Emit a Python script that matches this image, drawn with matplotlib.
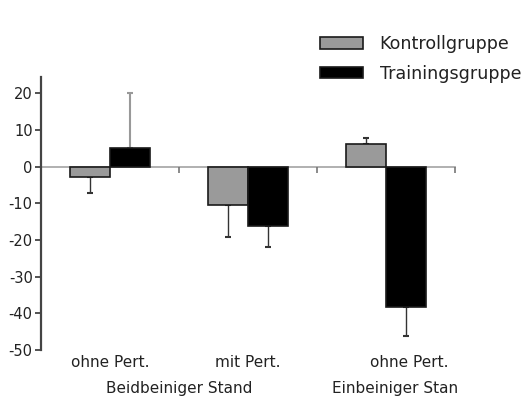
import numpy as np
import matplotlib
matplotlib.use('Agg')
import matplotlib.pyplot as plt
import matplotlib.transforms as mtransforms
from matplotlib.patches import Rectangle

# Mittelwerte und Standardabweichungen (Veraenderung in %)
gruppen = ['Kontrollgruppe', 'Trainingsgruppe']
bedingungen = ['ohne Pert.', 'mit Pert.', 'ohne Pert.']
kontrolle = [-2.9, -10.5, 6.1]
kontrolle_sd = [4.4, 8.7, 1.6]
training = [5.0, -16.2, -38.3]
training_sd = [15.0, 5.8, 7.9]
yticks = [-50, -40, -30, -20, -10, 0, 10, 20]

textfarbe = '#222222'
W, H = 529, 398

fig = plt.figure(figsize=(W / 100, H / 100), dpi=100)
ax = fig.add_axes([41 / W, 1 - 350 / H, (455 - 41) / W, (350 - 77) / H])

x = np.arange(len(bedingungen))
w = 0.29

for werte, sd, farbe, dx in [(kontrolle, kontrolle_sd, '#9a9a9a', -w / 2),
                             (training, training_sd, 'black', w / 2)]:
    ax.bar(x + dx, werte, width=w, color=farbe, edgecolor='#1a1a1a',
           linewidth=1.2, zorder=3)
    # nur einseitige Fehlerbalken (vom Nullpunkt weg)
    for xi, v, s in zip(x + dx, werte, sd):
        yerr = [[s], [0]] if v < 0 else [[0], [s]]
        lc = '#999999' if (v > 0 and s > 5) else '#333333'
        _, caps, bars = ax.errorbar([xi], [v], yerr=yerr, fmt='none',
                                    ecolor=lc, elinewidth=1.5 if lc == '#999999' else 1.0,
                                    capsize=2.5, capthick=1.5, zorder=2)
        for c in caps:
            c.set_color('#333333')

ax.set_xlim(-0.5, 2.5)
ax.set_ylim(-50, 24.4)

ax.spines['top'].set_visible(False)
ax.spines['right'].set_visible(False)
ax.spines['left'].set_color('#444444')
ax.spines['left'].set_linewidth(1.6)
ax.spines['bottom'].set_position(('data', 0))
ax.spines['bottom'].set_color('#aaaaaa')
ax.spines['bottom'].set_linewidth(1.3)
ax.spines['bottom'].set_zorder(1)

ax.set_yticks(yticks)
ax.set_yticklabels([str(t) for t in yticks])
ax.tick_params(axis='y', length=4, width=1.3, color='#444444', pad=2,
               labelsize=10.5, labelcolor=textfarbe)
ax.set_xticks([0.5, 1.5, 2.5])
ax.set_xticklabels([])
ax.tick_params(axis='x', length=4, width=1.2, color='#777777')

# Beschriftung unter der Achse
tr = mtransforms.blended_transform_factory(ax.transData, fig.transFigure)
for xi, lab in zip([0, 1, 2.17], bedingungen):
    ax.text(xi, 1 - 367 / H, lab, transform=tr, ha='center', va='baseline',
            fontsize=11, color=textfarbe)
ax.text(0.5, 1 - 393 / H, 'Beidbeiniger Stand', transform=tr, ha='center',
        va='baseline', fontsize=11, color=textfarbe)
t = ax.text(1.61, 1 - 393 / H, 'Einbeiniger Stand', transform=tr, ha='left',
            va='baseline', fontsize=11, color=textfarbe, clip_on=True)
t.set_clip_box(mtransforms.TransformedBbox(
    mtransforms.Bbox([[0, 0], [459 / W, 1]]), fig.transFigure))

# Legende
handles = [Rectangle((0, 0), 1, 1, facecolor='#9a9a9a', edgecolor='#1a1a1a', linewidth=1.2),
           Rectangle((0, 0), 1, 1, facecolor='black', edgecolor='#1a1a1a', linewidth=1.2)]
leg = fig.legend(handles, gruppen, loc='upper left',
                 bbox_to_anchor=(320 / W, 1 - 35 / H), frameon=False,
                 fontsize=12.6, handlelength=2.45, handleheight=0.63,
                 handletextpad=0.95, labelspacing=0.68, borderpad=0,
                 borderaxespad=0)
for txt in leg.get_texts():
    txt.set_color(textfarbe)

plt.savefig('out.png', dpi=100)
plt.close()
